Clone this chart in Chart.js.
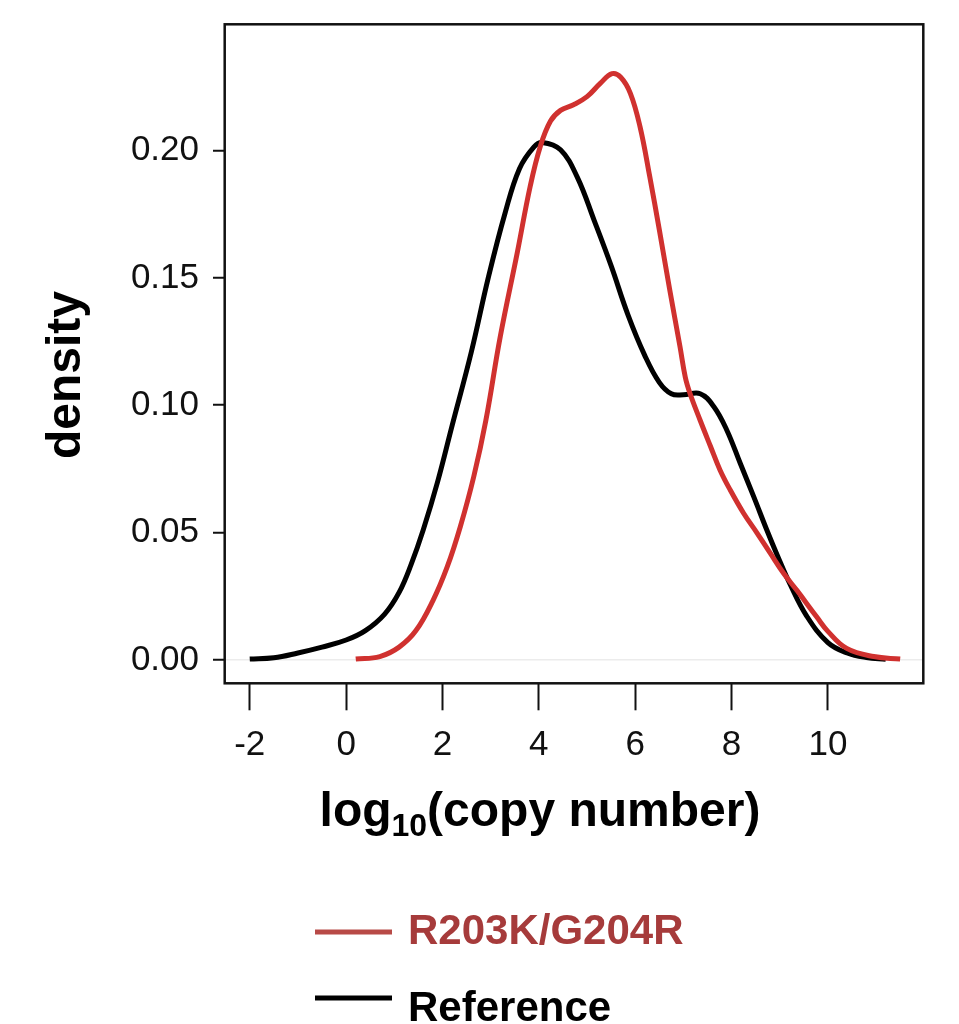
<!DOCTYPE html>
<html>
<head>
<meta charset="utf-8">
<script src="https://cdn.jsdelivr.net/npm/chart.js@4/dist/chart.umd.min.js"></script>
<style>
  html, body { margin: 0; padding: 0; background: #fff; }
  canvas { display: block; }
</style>
</head>
<body>
<canvas id="c" width="959" height="1024"></canvas>
<script>
// ---- data ----
const mutantName = 'R203K/G204R';
const referenceName = 'Reference';
const xTitleMain = 'log';
const xTitleSub = '10';
const xTitleRest = '(copy number)';
const yTitle = 'density';

const xTickValues = [-2, 0, 2, 4, 6, 8, 10];
const yTickValues = [0, 0.05, 0.10, 0.15, 0.20];

const mutantX = [0.2, 0.7, 1.1, 1.45, 1.8, 2.1, 2.37, 2.65, 2.9, 3.2, 3.55, 3.82, 4.03, 4.24, 4.45, 4.72, 5.0, 5.28, 5.52, 5.7, 5.9, 6.1, 6.3, 6.5, 6.72, 6.93, 7.04, 7.14, 7.35, 7.56, 7.76, 7.97, 8.25, 8.53, 8.8, 9.08, 9.36, 9.77, 10.0, 10.39, 10.95, 11.5];
const mutantY = [0.0003, 0.0013, 0.005, 0.0115, 0.0232, 0.0366, 0.0523, 0.072, 0.094, 0.127, 0.1597, 0.1859, 0.2016, 0.2115, 0.2158, 0.218, 0.2212, 0.2265, 0.2302, 0.2288, 0.2225, 0.2094, 0.190, 0.169, 0.145, 0.123, 0.111, 0.1045, 0.094, 0.084, 0.0746, 0.0668, 0.0576, 0.0498, 0.042, 0.034, 0.0272, 0.0168, 0.0112, 0.0045, 0.0013, 0.0003];

const referenceX = [-2.0, -1.5, -1.0, -0.5, 0.0, 0.4, 0.8, 1.1, 1.35, 1.6, 1.9, 2.2, 2.6, 2.95, 3.3, 3.6, 3.9, 4.07, 4.45, 4.8, 5.15, 5.5, 5.85, 6.2, 6.5, 6.75, 7.0, 7.35, 7.63, 7.9, 8.18, 8.46, 8.73, 8.94, 9.22, 9.56, 10.0, 10.4, 10.8, 11.2];
const referenceY = [0.0003, 0.0008, 0.0027, 0.005, 0.0078, 0.0115, 0.018, 0.0265, 0.0375, 0.051, 0.070, 0.092, 0.121, 0.150, 0.1755, 0.193, 0.2015, 0.2032, 0.2003, 0.1895, 0.1725, 0.1548, 0.1355, 0.1195, 0.109, 0.1045, 0.1041, 0.1045, 0.0995, 0.0903, 0.0772, 0.0641, 0.0511, 0.0415, 0.0295, 0.0172, 0.0068, 0.0027, 0.0009, 0.0002];

// ---- styling ----
const FONT = '"Liberation Sans", Arial, Helvetica, sans-serif';
const RED = '#d0312f';
const BLACK = '#000000';
const LEGEND_RED_LINE = '#b84a47';
const LEGEND_RED_TEXT = '#a63b3b';

const toPoints = (xs, ys) => xs.map((x, i) => ({ x: x, y: ys[i] }));

const overlay = {
  id: 'overlay',
  afterDraw(chart) {
    const ctx = chart.ctx;
    const a = chart.chartArea;
    ctx.save();
    // frame
    ctx.strokeStyle = '#111';
    ctx.lineWidth = 2.5;
    ctx.strokeRect(a.left, a.top, a.right - a.left, a.bottom - a.top);

    // x title with subscript
    ctx.fillStyle = '#000';
    ctx.textBaseline = 'alphabetic';
    ctx.textAlign = 'left';
    const big = 'bold 48px ' + FONT;
    const small = 'bold 32px ' + FONT;
    ctx.font = big;
    const w1 = ctx.measureText(xTitleMain).width;
    const w3 = ctx.measureText(xTitleRest).width;
    ctx.font = small;
    const w2 = ctx.measureText(xTitleSub).width;
    const total = w1 + w2 + w3;
    let x0 = 540 - total / 2;
    const base = 826;
    ctx.font = big;
    ctx.fillText(xTitleMain, x0, base);
    ctx.font = small;
    ctx.fillText(xTitleSub, x0 + w1, base + 10);
    ctx.font = big;
    ctx.fillText(xTitleRest, x0 + w1 + w2, base);

    // y title
    ctx.save();
    ctx.translate(80, 375);
    ctx.rotate(-Math.PI / 2);
    ctx.textAlign = 'center';
    ctx.font = big;
    ctx.fillText(yTitle, 0, 0);
    ctx.restore();

    // legend
    ctx.lineCap = 'butt';
    ctx.lineWidth = 5;
    ctx.strokeStyle = LEGEND_RED_LINE;
    ctx.beginPath(); ctx.moveTo(315, 932); ctx.lineTo(392, 932); ctx.stroke();
    ctx.strokeStyle = BLACK;
    ctx.beginPath(); ctx.moveTo(315, 998); ctx.lineTo(392, 998); ctx.stroke();
    ctx.font = 'bold 42px ' + FONT;
    ctx.textAlign = 'left';
    ctx.fillStyle = LEGEND_RED_TEXT;
    ctx.fillText(mutantName, 408, 944);
    ctx.fillStyle = '#000';
    ctx.fillText(referenceName, 408, 1021);
    ctx.restore();
  }
};

new Chart(document.getElementById('c'), {
  type: 'scatter',
  data: {
    datasets: [
      {
        label: mutantName,
        data: toPoints(mutantX, mutantY),
        showLine: true,
        borderColor: RED,
        backgroundColor: RED,
        borderWidth: 5,
        pointRadius: 0,
        tension: 0.4,
        fill: false
      },
      {
        label: referenceName,
        data: toPoints(referenceX, referenceY),
        showLine: true,
        borderColor: BLACK,
        backgroundColor: BLACK,
        borderWidth: 5,
        pointRadius: 0,
        tension: 0.4,
        fill: false
      }
    ]
  },
  options: {
    responsive: false,
    devicePixelRatio: 1,
    animation: false,
    events: [],
    layout: { padding: { left: 0, top: 24.3, right: 35.7, bottom: 0 } },
    plugins: { legend: { display: false }, tooltip: { enabled: false }, title: { display: false } },
    scales: {
      x: {
        type: 'linear',
        min: -2.52,
        max: 11.98,
        afterFit(scale) {
          scale.height = 340.7;
          scale.paddingLeft = 0; scale.paddingRight = 0;
          scale.paddingTop = 0; scale.paddingBottom = 0;
        },
        afterBuildTicks(scale) { scale.ticks = xTickValues.map(v => ({ value: v })); },
        border: { display: false },
        grid: {
          drawOnChartArea: false,
          drawTicks: true,
          tickLength: 27,
          tickWidth: 2,
          tickColor: '#111',
          color: 'rgba(0,0,0,0)'
        },
        ticks: {
          autoSkip: false,
          maxRotation: 0,
          padding: 14,
          color: '#111',
          font: { family: FONT, size: 35 },
          callback: v => String(v)
        }
      },
      y: {
        type: 'linear',
        min: -0.0092,
        max: 0.2496,
        afterFit(scale) {
          scale.width = 224.7;
          scale.paddingLeft = 0; scale.paddingRight = 0;
          scale.paddingTop = 0; scale.paddingBottom = 0;
        },
        afterBuildTicks(scale) { scale.ticks = yTickValues.map(v => ({ value: v })); },
        border: { display: false },
        grid: {
          drawOnChartArea: true,
          drawTicks: true,
          tickLength: 11.7,
          tickWidth: 2,
          tickColor: '#111',
          lineWidth: 1.5,
          color: ctx => (ctx.tick && ctx.tick.value === 0) ? '#ececec' : 'rgba(0,0,0,0)'
        },
        ticks: {
          padding: 14,
          color: '#111',
          font: { family: FONT, size: 35 },
          callback: v => Number(v).toFixed(2)
        }
      }
    }
  },
  plugins: [overlay]
});
</script>
</body>
</html>
